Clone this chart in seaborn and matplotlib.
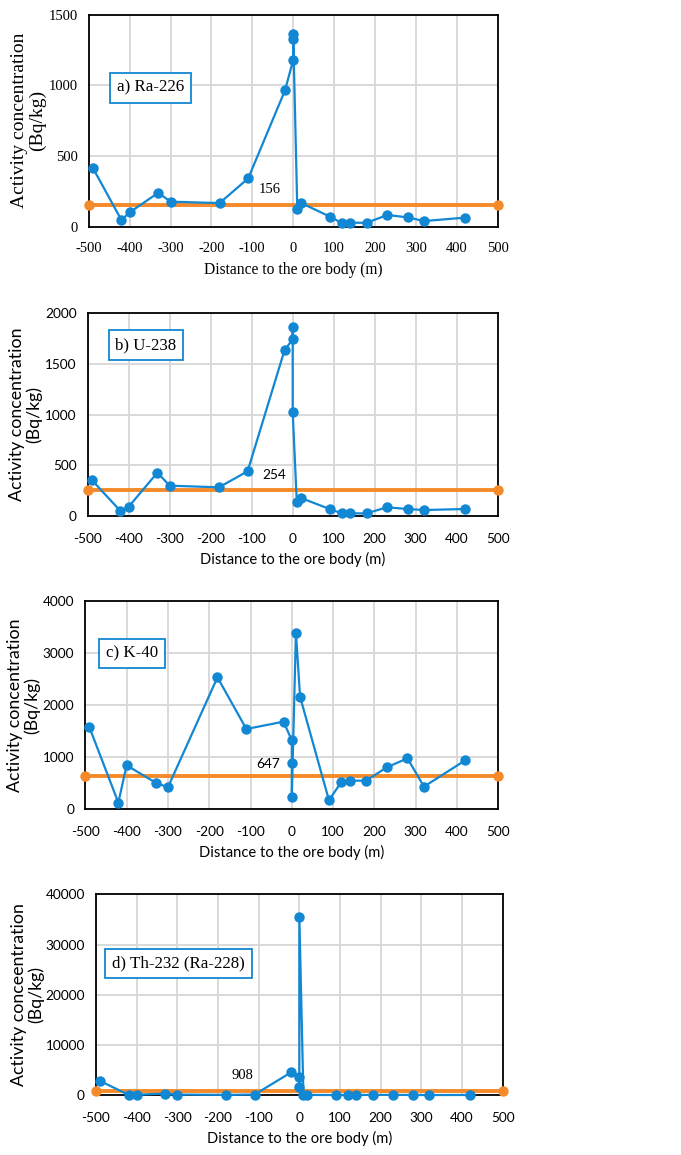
import matplotlib
matplotlib.use("Agg")
import matplotlib.pyplot as plt
import seaborn as sns
import pandas as pd

# Sampling distances along the profile (m); three samples taken at the ore body itself
distance = [-490, -420, -400, -330, -300, -180, -110, -20, 0, 0, 0,
            10, 20, 90, 120, 140, 180, 230, 280, 320, 420]

ra226 = [417, 47, 101, 240, 177, 167, 342, 965, 1179, 1330, 1363,
         123, 167, 71, 24, 28, 28, 83, 66, 40, 64]
u238 = [355, 49, 92, 428, 299, 283, 441, 1635, 1743, 1862, 1023,
        138, 178, 69, 26, 26, 26, 86, 69, 59, 69]
k40 = [1574, 128, 845, 512, 422, 2534, 1542, 1683, 1325, 896, 243,
       3392, 2163, 173, 525, 550, 550, 806, 979, 435, 941]
th232 = [2852, 100, 120, 350, 150, 90, 150, 4577, 3700, 1700, 35400,
         60, 80, 50, 60, 80, 70, 90, 60, 50, 70]

# Reference (mean) levels drawn as horizontal lines
ref_levels = [156, 254, 647, 908]
panel_titles = ["a) Ra-226", "b) U-238", "c) K-40", "d) Th-232 (Ra-228)"]
y_labels = ["Activity concentration\n(Bq/kg)", "Activity concentration\n(Bq/kg)",
            "Activity concentration\n(Bq/kg)", "Activity conceentration\n(Bq/kg)"]
y_limits = [1500, 2000, 4000, 40000]
y_steps = [500, 500, 1000, 10000]
x_ticks = [-500, -400, -300, -200, -100, 0, 100, 200, 300, 400, 500]

sns.set_theme(style="whitegrid")
plt.rcParams["axes.unicode_minus"] = False

BLUE = "#1287D3"
ORANGE = "#F58A2A"
SERIF = "Liberation Serif"
SANS = "Lato"

# axes boxes in pixels: left, right, top, bottom
boxes = [(88.7, 497.7, 14.7, 226.7),
         (87.7, 497.7, 313.3, 516.0),
         (85.3, 498.3, 601.0, 809.3),
         (96.0, 502.7, 894.3, 1095.3)]
W, H = 681, 1155

# per-panel styling
tick_fonts = [SERIF, SANS, SANS, SANS]
note_fonts = [SERIF, SANS, SANS, SERIF]
note_pos = [(-58, 266), (-45, 405), (-57, 864), (-140, 3850)]
tag_pos = [(0.151, 0.655), (0.142, 0.844), (0.113, 0.748), (0.203, 0.656)]
ylabel_x_px = [28.5, 25.5, 23.5, 27.5]
ylabel_spacing = [1.05, 1.0, 1.1, 1.05]

series = [ra226, u238, k40, th232]

fig = plt.figure(figsize=(W / 100, H / 100), dpi=100)

for i in range(4):
    l, r, t, b = boxes[i]
    ax = fig.add_axes([l / W, 1 - b / H, (r - l) / W, (b - t) / H])
    df = pd.DataFrame({"distance": distance, "activity": series[i]})
    ref = pd.DataFrame({"distance": [-500, 500], "activity": [ref_levels[i]] * 2})

    sns.lineplot(data=ref, x="distance", y="activity", ax=ax, color=ORANGE,
                 linewidth=2.8, marker="o", markersize=7.5, markeredgewidth=0,
                 estimator=None, sort=False, clip_on=False, zorder=3)
    sns.lineplot(data=df, x="distance", y="activity", ax=ax, color=BLUE,
                 linewidth=1.6, marker="o", markersize=7.5, markeredgewidth=0,
                 estimator=None, sort=False, clip_on=False, zorder=4)

    ax.set_xlim(-500, 500)
    ax.set_ylim(0, y_limits[i])
    ax.set_xticks(x_ticks)
    ax.set_yticks(range(0, y_limits[i] + 1, y_steps[i]))
    ax.grid(True, color="#d9d9d9", linewidth=1.4)
    for s in ax.spines.values():
        s.set_color("black")
        s.set_linewidth(1.3)
        s.set_visible(True)

    tf = tick_fonts[i]
    serif = tf == SERIF
    ax.tick_params(axis="both", length=0, labelsize=10.5 if serif else 9.8,
                   colors="black")
    ax.tick_params(axis="x", pad=11 if serif else 12)
    ax.tick_params(axis="y", pad=8)
    for lab in ax.get_xticklabels() + ax.get_yticklabels():
        lab.set_fontfamily(tf)

    ax.set_xlabel("Distance to the ore body (m)", fontfamily=tf,
                  fontsize=11.2 if serif else 10.6, color="black", labelpad=5)
    ax.set_ylabel(y_labels[i], fontfamily=tf, fontsize=14.0 if serif else 12.8,
                  color="black", linespacing=ylabel_spacing[i])
    ax.yaxis.label.set_verticalalignment("center")
    ax.yaxis.set_label_coords((ylabel_x_px[i] - l) / (r - l), 0.5)

    nx, ny = note_pos[i]
    ax.text(nx, ny, str(ref_levels[i]), ha="center", va="center",
            fontfamily=note_fonts[i],
            fontsize=10.5 if note_fonts[i] == SERIF else 9.8,
            color="black", zorder=5)

    tx, ty = tag_pos[i]
    ax.text(tx, ty, panel_titles[i], transform=ax.transAxes, ha="center", va="center",
            fontfamily=SERIF, fontsize=12.2, color="black", zorder=6,
            bbox=dict(boxstyle="square,pad=0.4", facecolor="white",
                      edgecolor=BLUE, linewidth=1.3))

fig.savefig("out.png", dpi=100)
